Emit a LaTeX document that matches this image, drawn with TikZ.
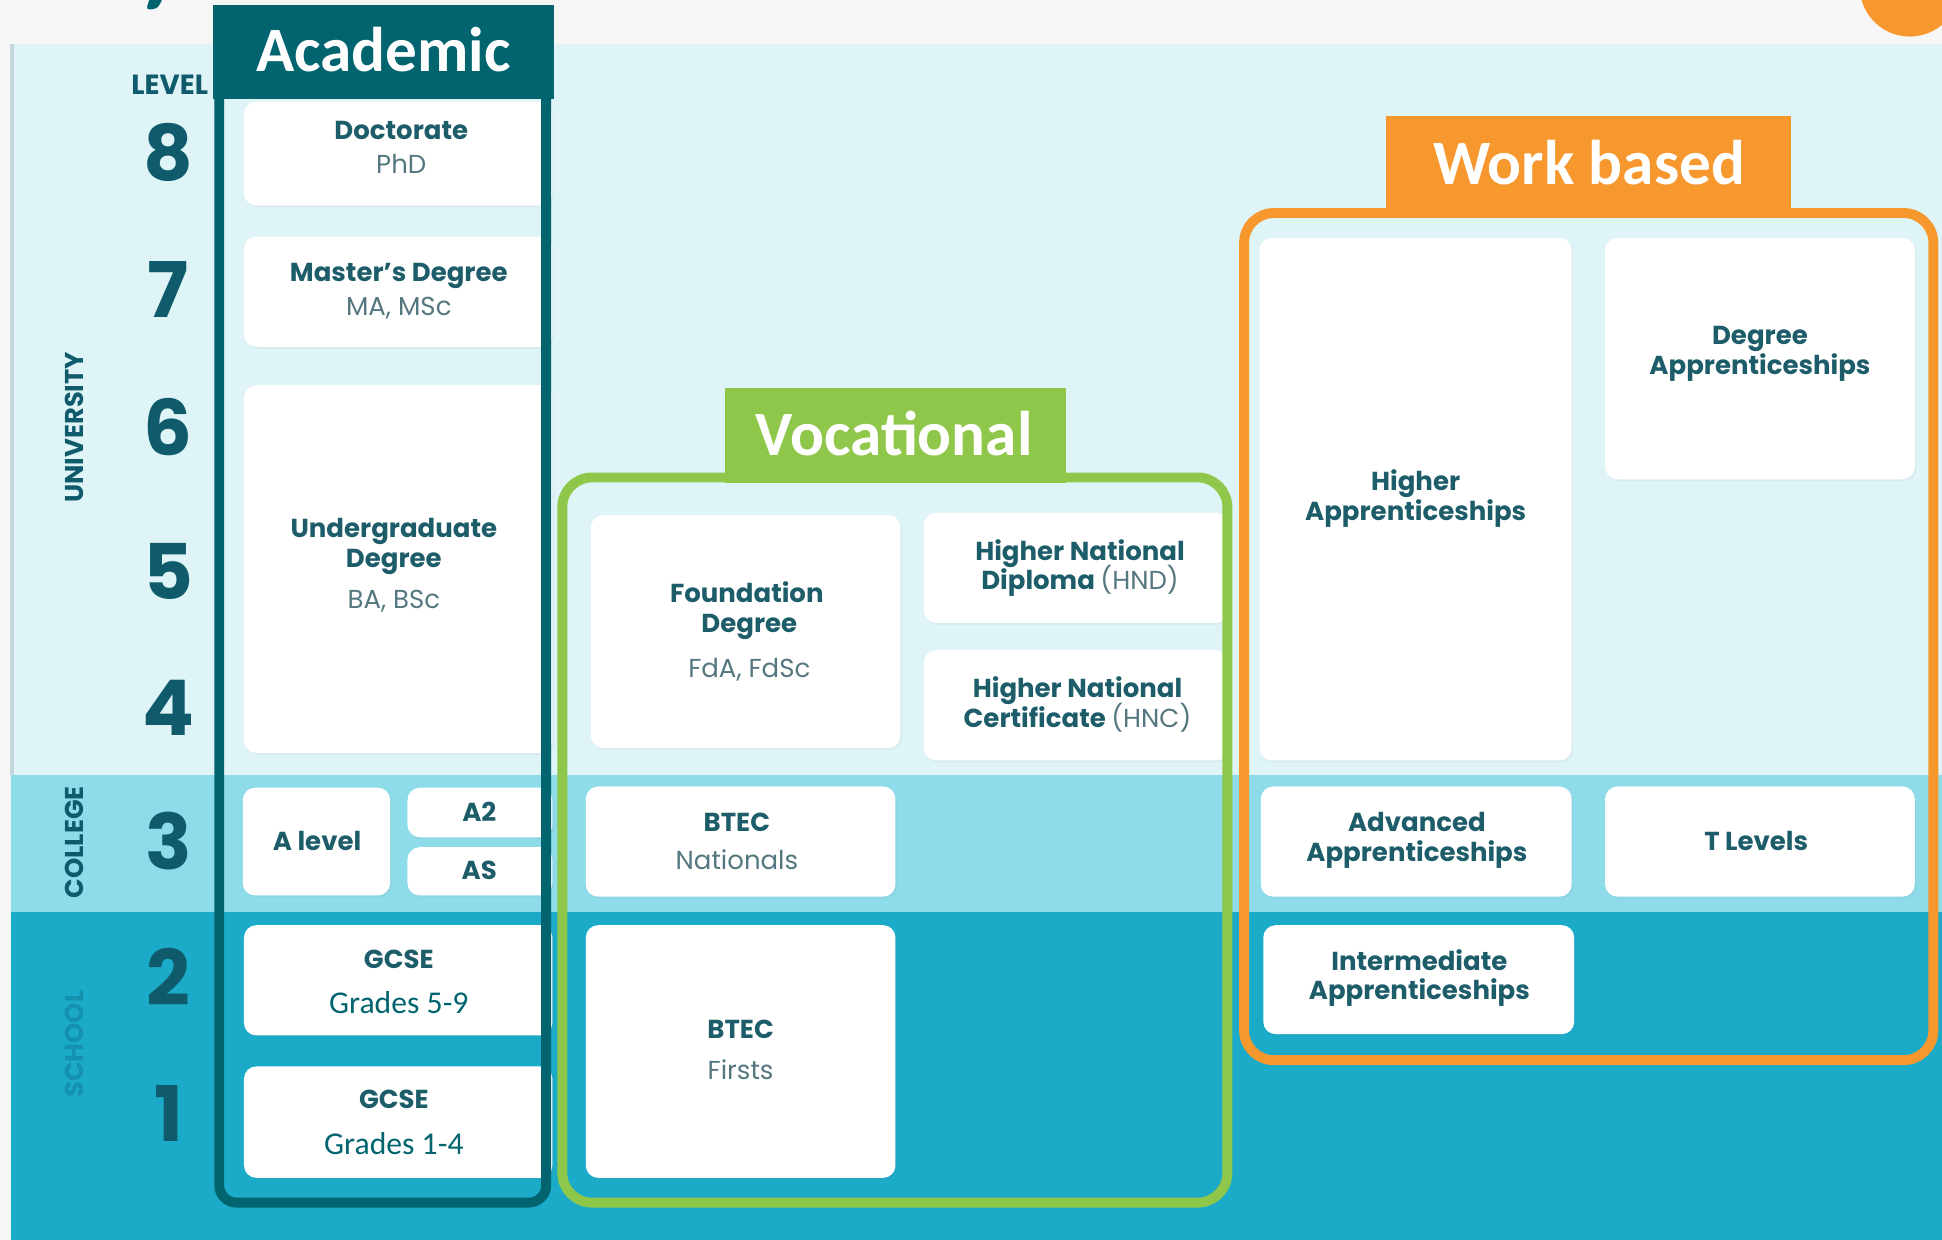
\documentclass[tikz,border=0pt]{standalone}
\usepackage{fontspec}
\usetikzlibrary{shadows}
\newfontfamily\pop{Poppins}
\newfontfamily\calib{Carlito}
\definecolor{bggray}{HTML}{F6F6F6}
\definecolor{univ}{HTML}{DFF4F7}
\definecolor{coll}{HTML}{8EDBEA}
\definecolor{schl}{HTML}{1BABC9}
\definecolor{acad}{HTML}{01646F}
\definecolor{voc}{HTML}{8FC74A}
\definecolor{work}{HTML}{F7982E}
\definecolor{numc}{HTML}{0F5B6B}
\definecolor{titc}{HTML}{1D5C69}
\definecolor{subc}{HTML}{557880}
\definecolor{edge}{HTML}{C3D8DC}
\definecolor{schtxt}{HTML}{1391AE}
\tikzset{
  wbox/.style={fill=white, rounded corners=5pt, inner sep=0pt, draw=none,
    drop shadow={opacity=0.07, shadow xshift=0.6pt, shadow yshift=-0.8pt}},
  ttl/.style={font={\pop\bfseries\fontsize{10.5}{12}\selectfont}, text=titc, inner sep=0pt, text height=7.35pt, text depth=0pt},
  sub/.style={font={\pop\fontsize{10.5}{12}\selectfont}, text=subc, inner sep=0pt, text height=7.35pt, text depth=0pt},
  grd/.style={font={\calib\fontsize{12.8}{15}\selectfont}, text=acad, inner sep=0pt, text height=8.3pt, text depth=0pt},
  num/.style={font={\pop\bfseries\fontsize{31}{36}\selectfont}, text=numc, inner sep=0pt, text height=21.7pt, text depth=0pt},
  side/.style={font={\pop\bfseries\fontsize{10.4}{12}\selectfont}, inner sep=0pt, text height=7.3pt, text depth=0pt, rotate=90},
  bannerbox/.style={inner sep=0pt, draw=none},
  bannertxt/.style={font={\calib\bfseries\fontsize{25.5}{30}\selectfont}, text=white, inner sep=0pt, text height=16pt, text depth=0pt},
  frame/.style={line width=4pt, rounded corners=7pt}
}
\begin{document}
\begin{tikzpicture}[x=0.5pt,y=-0.5pt]
\useasboundingbox (0,0) rectangle (1568,1001);
% backgrounds
\fill[bggray] (0,0) rectangle (1568,1001);
\fill[univ] (9,35.5) rectangle (1568,626);
\fill[coll] (9,626) rectangle (1568,736);
\fill[schl] (9,736) rectangle (1568,1001);
\fill[edge] (8,35.5) rectangle (11,626);
% top fragments
\fill[acad, rounded corners=1.5pt] (121,-2) -- (132,-2) -- (127,7) -- (118,8) -- cycle;
\fill[work] (1542,-11) circle (40.5);
% level labels
\node[font={\pop\bfseries\fontsize{11.2}{13}\selectfont}, text=numc, inner sep=0pt, text height=7.9pt, text depth=0pt] (lvl) at (137,68) {LEVEL};
\node[num] (n8) at (136,124) {8};
\node[num] (n7) at (136,235) {7};
\node[num] (n6) at (136,346) {6};
\node[num] (n5) at (136,462) {5};
\node[num] (n4) at (136,572) {4};
\node[num] (n3) at (136,680) {3};
\node[num] (n2) at (136,790) {2};
\node[num] (n1) at (136,900) {1};
\node[side, text=numc] (uni) at (60,345) {UNIVERSITY};
\node[side, text=numc] (col) at (60,680) {COLLEGE};
\node[side, text=schtxt] (sch) at (60,843) {SCHOOL};
% academic boxes
\node[wbox, minimum width=124.5pt, minimum height=42pt] (doc) at (321.5,124) {};
\node[wbox, minimum width=124.5pt, minimum height=44.5pt] (mas) at (321.5,235.5) {};
\node[wbox, minimum width=124.5pt, minimum height=148.5pt] (ug) at (321.5,459.5) {};
\node[wbox, minimum width=59.5pt, minimum height=43.5pt] (alev) at (255.5,679.5) {};
\node[wbox, minimum width=58.5pt, minimum height=20pt] (atwo) at (387.5,656) {};
\node[wbox, minimum width=58.5pt, minimum height=19.5pt] (aas) at (387.5,703.5) {};
\node[wbox, minimum width=124.5pt, minimum height=44.5pt] (gcsetwo) at (321.5,791.5) {};
\node[wbox, minimum width=124.5pt, minimum height=45pt] (gcseone) at (321.5,906) {};
% vocational boxes
\node[wbox, minimum width=125pt, minimum height=94pt] (fd) at (602,510) {};
\node[wbox, minimum width=123pt, minimum height=44.5pt] (hnd) at (869,458.5) {};
\node[wbox, minimum width=123pt, minimum height=44.5pt] (hnc) at (869,569.5) {};
\node[wbox, minimum width=125pt, minimum height=44.5pt] (btn) at (598,679.5) {};
\node[wbox, minimum width=125pt, minimum height=102pt] (btf) at (598,849) {};
% work based boxes
\node[wbox, minimum width=126pt, minimum height=211pt] (ha) at (1143,403) {};
\node[wbox, minimum width=125pt, minimum height=97.5pt] (da) at (1421,289.5) {};
\node[wbox, minimum width=125.5pt, minimum height=44.5pt] (adv) at (1143.5,679.5) {};
\node[wbox, minimum width=125pt, minimum height=44.5pt] (tl) at (1421,679.5) {};
\node[wbox, minimum width=125.5pt, minimum height=44pt] (int) at (1145.5,791) {};
% texts
\node[ttl] (t1) at (324,105) {Doctorate};
\node[sub] (s1) at (324,133) {PhD};
\node[ttl] (t2) at (322,220) {Master’s Degree};
\node[sub] (s2) at (322,247) {MA, MSc};
\node[ttl] (t3a) at (318,427) {Undergraduate};
\node[ttl] (t3b) at (318,451) {Degree};
\node[sub] (s3) at (318,484) {BA, BSc};
\node[ttl] (t4) at (256,679) {A level};
\node[ttl] (t5) at (387,656) {A2};
\node[ttl] (t6) at (387,703) {AS};
\node[ttl] (t7) at (322,775) {GCSE};
\node[grd] (s7) at (322,810) {Grades 5-9};
\node[ttl] (t8) at (318,888) {GCSE};
\node[grd] (s8) at (318,924) {Grades 1-4};
\node[ttl] (t9a) at (603,479) {Foundation};
\node[ttl] (t9b) at (605,503) {Degree};
\node[sub] (s9) at (605,540) {FdA, FdSc};
\node[ttl] (t10a) at (872,445) {Higher National};
\node[ttl] (t10b) at (872,469) {Diploma {\mdseries\color{subc}(HND)}};
\node[ttl] (t11a) at (870,556) {Higher National};
\node[ttl] (t11b) at (870,580) {Certificate {\mdseries\color{subc}(HNC)}};
\node[ttl] (t12) at (595,664) {BTEC};
\node[sub] (s12) at (595,695) {Nationals};
\node[ttl] (t13) at (598,831) {BTEC};
\node[sub] (s13) at (598,864) {Firsts};
\node[ttl] (t14a) at (1143,389) {Higher};
\node[ttl] (t14b) at (1143,413) {Apprenticeships};
\node[ttl] (t15a) at (1421,271) {Degree};
\node[ttl] (t15b) at (1421,295) {Apprenticeships};
\node[ttl] (t16a) at (1144,664) {Advanced};
\node[ttl] (t16b) at (1144,688) {Apprenticeships};
\node[ttl] (t17) at (1418,679) {T Levels};
\node[ttl] (t18a) at (1146,776) {Intermediate};
\node[ttl] (t18b) at (1146,800) {Apprenticeships};
% frames
\draw[frame, acad] (177,60) rectangle (441,971);
\draw[frame, voc, rounded corners=12pt] (454,385.5) rectangle (991,971);
\draw[frame, work, rounded corners=12pt] (1004.5,172) rectangle (1561,856);
% banners
\node[bannerbox, fill=acad, minimum width=137.5pt, minimum height=38pt] (acadban) at (309.5,42) {};
\node[bannertxt] (acadtxt) at (309.5,42) {Academic};
\node[bannerbox, fill=voc, minimum width=138pt, minimum height=38.5pt] (vocban) at (723,351.5) {};
\node[bannertxt] (voctxt) at (722,352) {Vocational};
\node[bannerbox, fill=work, minimum width=163.5pt, minimum height=37pt] (workban) at (1282.5,131) {};
\node[bannertxt] (worktxt) at (1283,133) {Work based};
\end{tikzpicture}
\end{document}
